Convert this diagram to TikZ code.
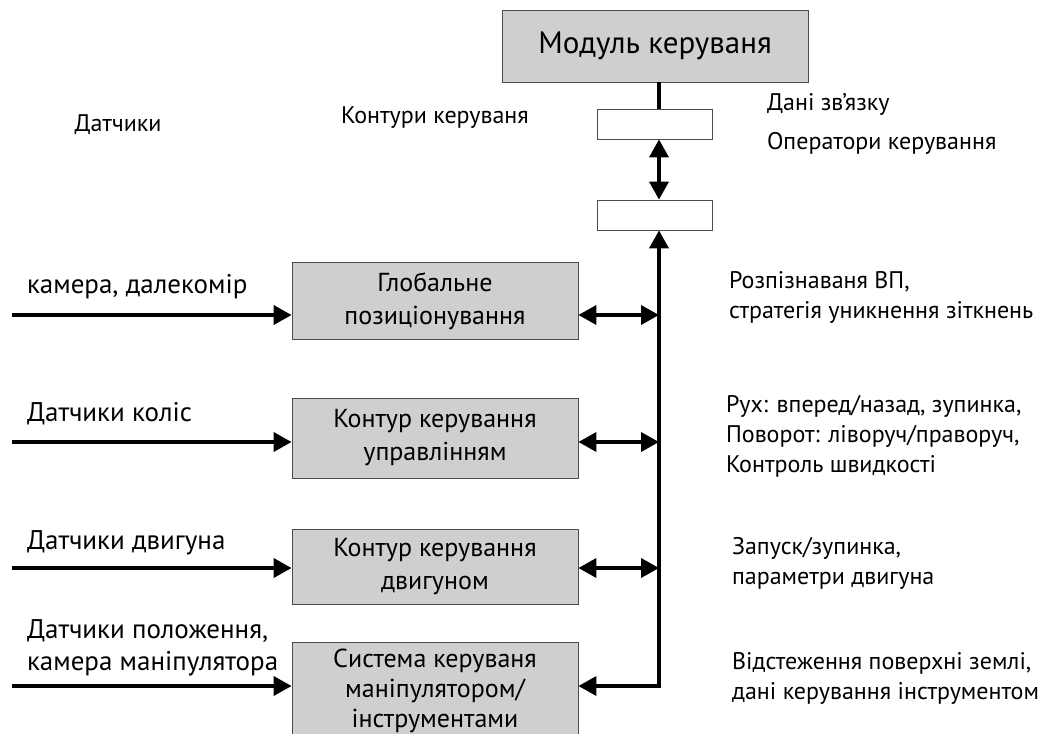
\documentclass[tikz,border=0pt]{standalone}
\usepackage{fontspec}
\setmainfont{PT Sans}
\usetikzlibrary{arrows.meta,positioning}

\begin{document}
\begin{tikzpicture}[x=0.5pt, y=-0.5pt,
    box/.style={draw=black!70, fill=black!19, align=center, minimum width=143pt,
      font=\fontsize{13}{16.5}\selectfont},
    bufbox/.style={draw=black!70, fill=white, minimum width=57.5pt,
      minimum height=15pt, inner sep=0pt},
    lbl/.style={anchor=west, align=left, font=\fontsize{13.5}{16}\selectfont},
    note/.style={anchor=west, align=left, font=\fontsize{12}{15}\selectfont},
    arrow/.style={-{Triangle[length=9pt,width=9.5pt]}, line width=1.8pt},
    dblarrow/.style={{Triangle[length=9pt,width=9.5pt]}-{Triangle[length=9pt,width=9.5pt]},
      line width=1.8pt}
  ]
    \useasboundingbox (0,0) rectangle (1053,733);

    \node[box, minimum width=153pt, minimum height=36pt,
      font=\fontsize{15.5}{18}\selectfont] (modul) at (655,46) {Модуль керуваня};
    \node[bufbox] (buf1) at (655,124) {};
    \node[bufbox] (buf2) at (655,215) {};
    \coordinate (bus) at (659,0);

    \node[box, minimum height=38.5pt] (glob) at (435,301) {Глобальне\\позиціонування};
    \node[box, minimum height=40pt] (kerm) at (435,438) {Контур керування\\управлінням};
    \node[box, minimum height=37.5pt] (dvyg) at (435,567) {Контур керування\\двигуном};
    \node[box, minimum height=43.5pt, font=\fontsize{13}{15}\selectfont] (mani) at (435,691)
      {Система керуваня\\маніпулятором/\\інструментами};

    % sensor inputs
    \coordinate (in1) at (12,315);
    \coordinate (in2) at (12,442);
    \coordinate (in3) at (12,568);
    \coordinate (in4) at (12,686);
    \node[lbl] (lcam) at (20,287) {камера, далекомір};
    \node[lbl] (lkol) at (20,414) {Датчики коліс};
    \node[lbl] (ldvy) at (20,543) {Датчики двигуна};
    \node[lbl] (lpol) at (20,648) {Датчики положення,\\камера маніпулятора};

    % headings and notes
    \node[note, anchor=center] (ndat) at (118,125) {Датчики};
    \node[note, anchor=center] (nkont) at (435,118) {Контури керуваня};
    \node[note] (ndani) at (760,104) {Дані зв’язку};
    \node[note] (noper) at (760,143) {Оператори керування};
    \node[note] (nrozp) at (722,297) {Розпізнаваня ВП,\\стратегія уникнення зіткнень};
    \node[note] (nrukh) at (719,436) {Рух: вперед/назад, зупинка,\\Поворот: ліворуч/праворуч,\\Контроль швидкості};
    \node[note] (nzap) at (725,563) {Запуск/зупинка,\\параметри двигуна};
    \node[note] (nvid) at (725,678) {Відстеження поверхні землі,\\дані керування інструментом};

    \draw[line width=1.8pt] (modul.south -| bus) -- (buf1.north -| bus);
    \draw[dblarrow] (buf1.south -| bus) -- (buf2.north -| bus);
    \draw[dblarrow] (mani.east |- in4) -| (buf2.south -| bus);

    \draw[arrow] (in1) -- (glob.west |- in1);
    \draw[arrow] (in2) -- (kerm.west |- in2);
    \draw[arrow] (in3) -- (dvyg.west |- in3);
    \draw[arrow] (in4) -- (mani.west |- in4);

    \draw[dblarrow] (glob.east |- in1) -- (in1 -| bus);
    \draw[dblarrow] (kerm.east |- in2) -- (in2 -| bus);
    \draw[dblarrow] (dvyg.east |- in3) -- (in3 -| bus);
  \end{tikzpicture}
\end{document}
